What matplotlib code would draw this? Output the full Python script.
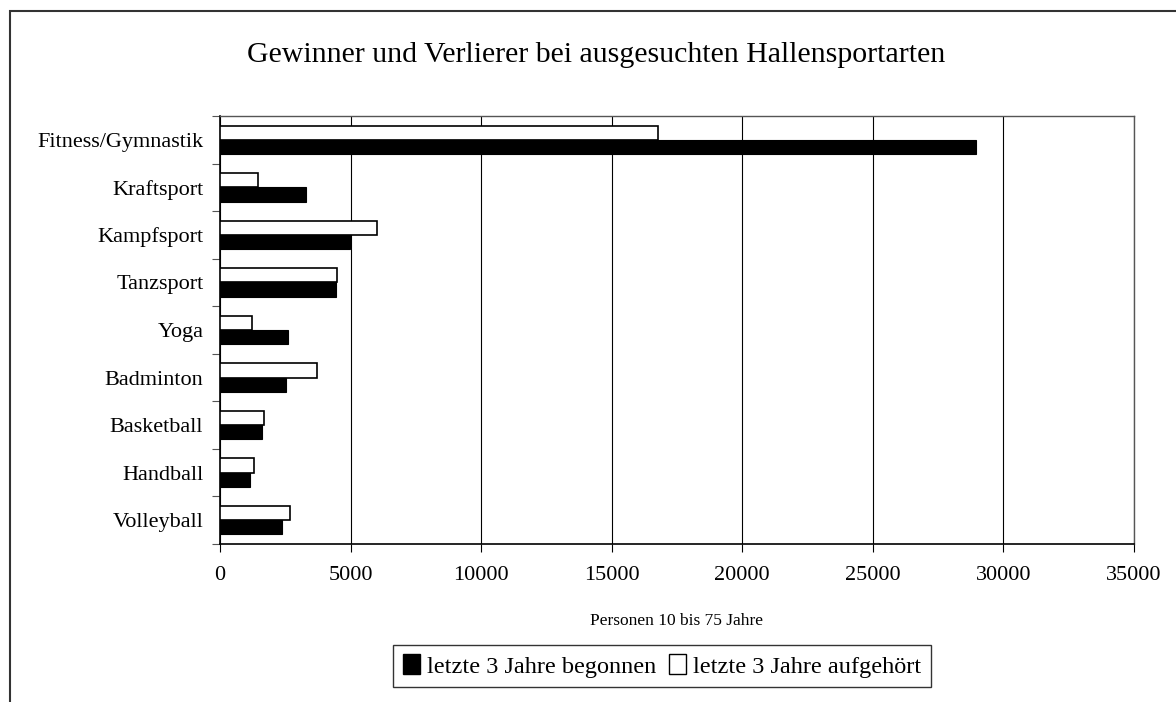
import numpy as np
import matplotlib.pyplot as plt
from matplotlib.patches import Rectangle, Patch

plt.rcParams['font.family'] = ['Liberation Serif', 'DejaVu Serif']

sports = ["Fitness/Gymnastik", "Kraftsport", "Kampfsport", "Tanzsport", "Yoga",
          "Badminton", "Basketball", "Handball", "Volleyball"]
begonnen = [28950, 3300, 4980, 4440, 2610, 2530, 1620, 1160, 2380]
aufgehoert = [16780, 1450, 6020, 4490, 1210, 3730, 1680, 1300, 2670]

fig = plt.figure(figsize=(11.76, 7.02), dpi=100)
W, H = 1176, 702
ax = fig.add_axes([220 / W, 1 - 544 / H, (1134 - 220) / W, (544 - 116) / H])

y = np.arange(len(sports))
h = 0.3
ax.barh(y - h / 2, aufgehoert, height=h, color='white', edgecolor='black', linewidth=1.2, zorder=3)
ax.barh(y + h / 2, begonnen, height=h, color='black', edgecolor='black', linewidth=0.8, zorder=3)

ax.set_xlim(0, 35000)
ax.set_ylim(len(sports) - 0.5, -0.5)
ax.set_xticks(np.arange(0, 35001, 5000))
ax.set_xticklabels([str(v) for v in range(0, 35001, 5000)], fontsize=16)
ax.xaxis.grid(True, color='black', linewidth=0.8, zorder=0)

# category labels at centres, ticks at boundaries
ax.set_yticks(np.arange(-0.5, len(sports), 1))
ax.set_yticklabels([])
ax.set_yticks(y, minor=True)
ax.set_yticklabels(sports, minor=True, fontsize=16)
ax.tick_params(axis='y', which='minor', length=0, pad=12)
ax.tick_params(axis='y', which='major', length=6, direction='out', color='#555555')
ax.tick_params(axis='x', length=6, direction='out', pad=10)

for s in ['top', 'right']:
    ax.spines[s].set_color('#555555')
    ax.spines[s].set_linewidth(1.0)
ax.spines['left'].set_linewidth(1.2)
ax.spines['bottom'].set_linewidth(1.2)

ax.set_xlabel("Personen 10 bis 75 Jahre", fontsize=12.5, labelpad=20)

fig.text(596 / W, 1 - 55 / H, "Gewinner und Verlierer bei ausgesuchten Hallensportarten",
         ha='center', va='center', fontsize=21.5)

handles = [Patch(facecolor='black', edgecolor='black', label="letzte 3 Jahre begonnen"),
           Patch(facecolor='white', edgecolor='black', label="letzte 3 Jahre aufgehört")]
leg = fig.legend(handles=handles, loc='center', bbox_to_anchor=(662 / W, 1 - 666 / H),
                 ncol=2, fontsize=17.5, frameon=True, fancybox=False, edgecolor='black',
                 handlelength=0.7, handleheight=0.85, handletextpad=0.3, columnspacing=0.5,
                 borderpad=0.4, borderaxespad=0)
leg.get_frame().set_linewidth(1.0)

# chart-area border running off the right and bottom
fig.patches.append(Rectangle((10 / W, -0.1), 1.2, 1 - 11 / H + 0.1, transform=fig.transFigure,
                             fill=False, edgecolor='#333333', linewidth=1.5))

fig.savefig("out.png", dpi=100)
